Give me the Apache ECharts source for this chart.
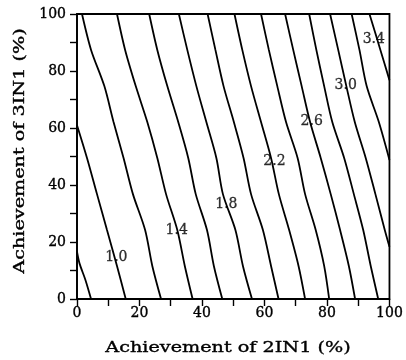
<!DOCTYPE html>
<html>
<head>
<meta charset="utf-8">
<script src="https://cdn.jsdelivr.net/npm/echarts@6/dist/echarts.min.js"></script>
<style>
  html, body { margin: 0; padding: 0; background: #fff; }
  #chart { width: 406px; height: 360px; }
</style>
</head>
<body>
<div id="chart"></div>
<script>
// Contour levels of the response surface
const levels = [0.8, 1.0, 1.2, 1.4, 1.6, 1.8, 2.0, 2.2, 2.4, 2.6, 2.8, 3.0, 3.2, 3.4];

// Each iso-line as [2IN1 %, 3IN1 %] points, one list per level
const contourPaths = [
  [[0, 16.6], [0.8, 12.5], [2.7, 6.7], [4.5, 0]],
  [[0, 61], [3.2, 49.5], [6.4, 36.8], [9.6, 24.2], [12.8, 11.6], [15.6, 0]],
  [[1.6, 100], [4.5, 87.4], [8.75, 74.7], [11.7, 62.1], [14.9, 49.5], [17.9, 36.8], [21.8, 24.2], [24.1, 11.6], [26.9, 0]],
  [[12.8, 100], [15.4, 87.4], [18.8, 74.7], [22.5, 62.1], [25.7, 49.5], [28.5, 36.8], [32.1, 24.2], [34.5, 11.6], [37.0, 0]],
  [[23.1, 100], [25.7, 87.4], [28.9, 74.7], [32.4, 62.1], [35.6, 49.5], [38.0, 36.8], [41.6, 24.2], [43.8, 11.6], [46.5, 0]],
  [[32.6, 100], [35.3, 87.4], [38.2, 74.7], [41.4, 62.1], [44.6, 49.5], [46.7, 36.8], [50.7, 24.2], [53.1, 11.6], [56.0, 0]],
  [[41.8, 100], [44.3, 87.4], [46.9, 74.7], [50.2, 62.1], [53.3, 49.5], [55.7, 36.8], [59.5, 24.2], [62.1, 11.6], [64.5, 0]],
  [[50.4, 100], [52.9, 87.4], [55.7, 74.7], [58.9, 62.1], [62.1, 49.5], [64.6, 36.8], [67.9, 24.2], [70.9, 11.6], [73.0, 0]],
  [[58.9, 100], [61.4, 87.4], [64.1, 74.7], [66.9, 62.1], [70.6, 49.5], [73.0, 36.8], [76.4, 24.2], [79.1, 11.6], [80.7, 0]],
  [[66.6, 100], [69.2, 87.4], [71.9, 74.7], [74.6, 62.1], [78.0, 49.5], [81.2, 36.8], [84.2, 24.2], [87.0, 11.6], [89.0, 0]],
  [[74.3, 100], [76.6, 87.4], [79.1, 74.7], [81.7, 62.1], [85.5, 49.5], [88.6, 36.8], [91.6, 24.2], [94.0, 11.6], [96.4, 0]],
  [[81.0, 100], [83.6, 87.4], [86.2, 74.7], [88.9, 62.1], [92.4, 49.5], [95.5, 36.8], [98.5, 24.2], [100, 18.3]],
  [[87.9, 100], [90.4, 87.4], [92.7, 74.7], [96.6, 62.1], [100, 48.8]],
  [[93.6, 100], [97.1, 87.4], [100, 76.8]]
];

// Inline level labels and where they sit on their lines
const labelLevels = ['1.0', '1.4', '1.8', '2.2', '2.6', '3.0', '3.4'];
const labelSpots = [[12.6, 14.7], [31.9, 24.2], [47.8, 33.3], [63.2, 48.4], [75.1, 62.2], [86.0, 74.8], [95.0, 91.2]];

const axisRange = { min: 0, max: 100, step: 20 };
const xTitle = 'Achievement of 2IN1 (%)';
const yTitle = 'Achievement of 3IN1 (%)';

const serif = 'DejaVu Serif';
const ink = '#000';

function valueAxis(labelMargin) {
  return {
    type: 'value',
    min: axisRange.min,
    max: axisRange.max,
    interval: axisRange.step,
    axisLine: { show: true, lineStyle: { color: ink, width: 1.6 } },
    axisTick: { show: true, inside: false, length: 7, lineStyle: { color: ink, width: 1.4 } },
    minorTick: { show: true, splitNumber: 2, length: 7, lineStyle: { color: ink, width: 1.4 } },
    splitLine: { show: false },
    minorSplitLine: { show: false },
    axisLabel: {
      color: ink, fontFamily: serif, fontSize: 14, margin: labelMargin,
      textBorderColor: ink, textBorderWidth: 0.35
    }
  };
}

const series = contourPaths.map((path, i) => ({
  name: 'level ' + levels[i].toFixed(1),
  type: 'line',
  data: path,
  showSymbol: false,
  smooth: 0.3,
  lineStyle: { color: ink, width: 1.8 },
  silent: true,
  animation: false
}));

series.push({
  type: 'scatter',
  data: labelSpots.map((p, i) => [p[0], p[1], labelLevels[i]]),
  symbolSize: 1,
  itemStyle: { color: 'transparent' },
  label: {
    show: true,
    position: 'inside',
    formatter: p => p.value[2],
    color: ink,
    fontFamily: serif,
    fontSize: 14,
    textBorderColor: ink,
    textBorderWidth: 0.3
  },
  silent: true,
  animation: false,
  z: 5
});

const titleStyle = text => ({
  text: text, fontFamily: serif, fontSize: 15, fill: ink,
  stroke: ink, lineWidth: 0.35,
  textAlign: 'center', textVerticalAlign: 'middle'
});

const chart = echarts.init(document.getElementById('chart'), null, { renderer: 'canvas' });
chart.setOption({
  backgroundColor: '#fff',
  animation: false,
  grid: {
    left: 77, right: 15, top: 14, bottom: 61,
    show: true, borderColor: ink, borderWidth: 1.8, backgroundColor: 'transparent'
  },
  xAxis: valueAxis(7),
  yAxis: valueAxis(11),
  series: series,
  graphic: [
    { type: 'text', x: 228, y: 348, scaleX: 1.28, style: titleStyle(xTitle) },
    { type: 'text', x: 20, y: 151, rotation: Math.PI / 2, scaleX: 1.28, style: titleStyle(yTitle) }
  ]
});
</script>
</body>
</html>
